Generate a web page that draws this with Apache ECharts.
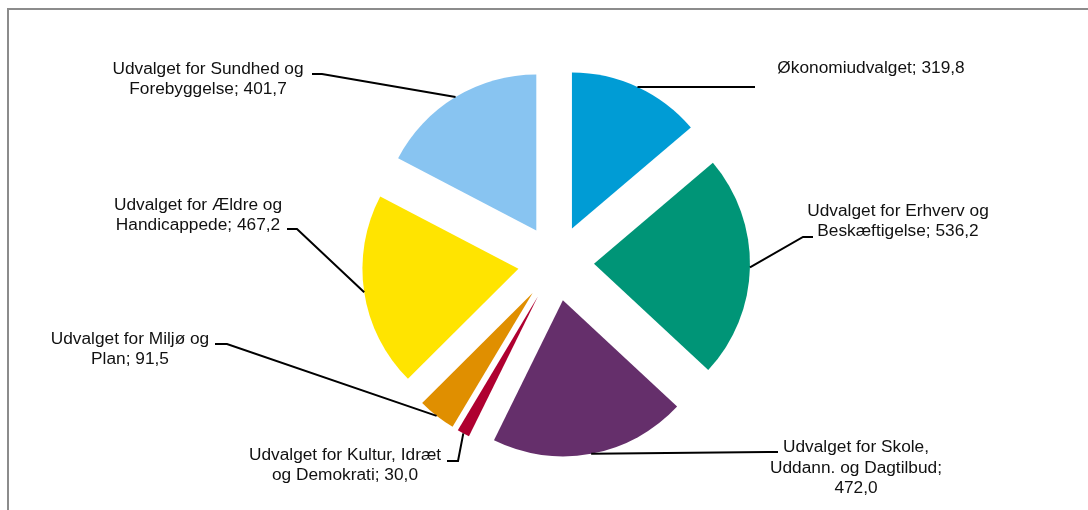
<!DOCTYPE html>
<html><head><meta charset="utf-8">
<script src="https://cdn.jsdelivr.net/npm/echarts@6/dist/echarts.min.js"></script>
<style>html,body{margin:0;padding:0;background:#fff}#c{width:1088px;height:510px}</style>
</head><body><div id="c"></div>
<script>
// ---- data ----
const categories = [
  'Økonomiudvalget',
  'Udvalget for Erhverv og Beskæftigelse',
  'Udvalget for Skole, Uddann. og Dagtilbud',
  'Udvalget for Kultur, Idræt og Demokrati',
  'Udvalget for Miljø og Plan',
  'Udvalget for Ældre og Handicappede',
  'Udvalget for Sundhed og Forebyggelse'
];
const values = [319.8, 536.2, 472.0, 30.0, 91.5, 467.2, 401.7];
const labelTemplates = [
  'Økonomiudvalget; {v}',
  'Udvalget for Erhverv og\nBeskæftigelse; {v}',
  'Udvalget for Skole,\nUddann. og Dagtilbud;\n{v}',
  'Udvalget for Kultur, Idræt\nog Demokrati; {v}',
  'Udvalget for Miljø og\nPlan; {v}',
  'Udvalget for Ældre og\nHandicappede; {v}',
  'Udvalget for Sundhed og\nForebyggelse; {v}'
];
const colors = ['#009CD5', '#009577', '#652F6B', '#AF0030', '#E08F00', '#FFE400', '#88C4F1'];

// ---- layout (style, not data) ----
const CX = 556, CY = 263, R = 156, OFF = 38;
const labelPos = [[871, 68], [898, 221], [856, 468], [345, 465], [130, 349], [198, 215], [208, 79]];
const lineEnd = [[755, 87], [813, 237], [778, 452], [447, 461], [215, 344], [287, 229], [312, 74]];
const elbowDx = [-10, -10, -10, 11, 12, 10, 10];

const total = values.reduce((a, b) => a + b, 0);
const midAngles = [];
{
  let acc = 0;
  values.forEach(v => { midAngles.push((acc + v / 2) / total * 2 * Math.PI); acc += v; });
}
function fmt(v) { return v.toFixed(1).replace('.', ','); }

const common = {
  type: 'pie',
  center: [CX, CY],
  radius: R,
  startAngle: 90,
  clockwise: true,
  avoidLabelOverlap: false,
  emphasis: {disabled: true}
};

const chart = echarts.init(document.getElementById('c'), null, {renderer: 'canvas'});
chart.setOption({
  animation: false,
  backgroundColor: '#fff',
  graphic: [{
    type: 'rect', silent: true, z: -10,
    shape: {x: 8, y: 9, width: 1200, height: 600},
    style: {fill: 'none', stroke: '#8c8c8c', lineWidth: 2}
  }],
  series: [
    Object.assign({}, common, {
      selectedMode: 'multiple',
      selectedOffset: OFF,
      itemStyle: {borderWidth: 0},
      label: {show: false},
      labelLine: {show: false},
      data: values.map((v, i) => ({
        value: v, name: categories[i], selected: true,
        itemStyle: {color: colors[i]}
      }))
    }),
    Object.assign({}, common, {
      silent: true,
      selectedMode: false,
      z: 3,
      itemStyle: {color: 'rgba(0,0,0,0)', borderWidth: 0},
      data: values.map((v, i) => ({value: v, name: categories[i]})),
      label: {
        show: true, position: 'outside', overflow: 'none',
        color: '#111', fontSize: 17.3, lineHeight: 20.5,
        fontFamily: '"Liberation Sans", Arial, sans-serif',
        align: 'center',
        formatter: p => labelTemplates[p.dataIndex].replace('{v}', fmt(p.value))
      },
      labelLine: {show: true, smooth: false, length: 10, length2: 10,
        lineStyle: {color: '#000', width: 2}},
      labelLayout: function (params) {
        const i = params.dataIndex;
        const a = midAngles[i];
        const sx = CX + (R + OFF) * Math.sin(a);
        const sy = CY - (R + OFF) * Math.cos(a);
        const e = lineEnd[i];
        return {
          x: labelPos[i][0], y: labelPos[i][1],
          align: 'center', verticalAlign: 'middle',
          labelLinePoints: [[sx, sy], [e[0] + elbowDx[i], e[1]], [e[0], e[1]]]
        };
      }
    })
  ]
});
</script></body></html>
